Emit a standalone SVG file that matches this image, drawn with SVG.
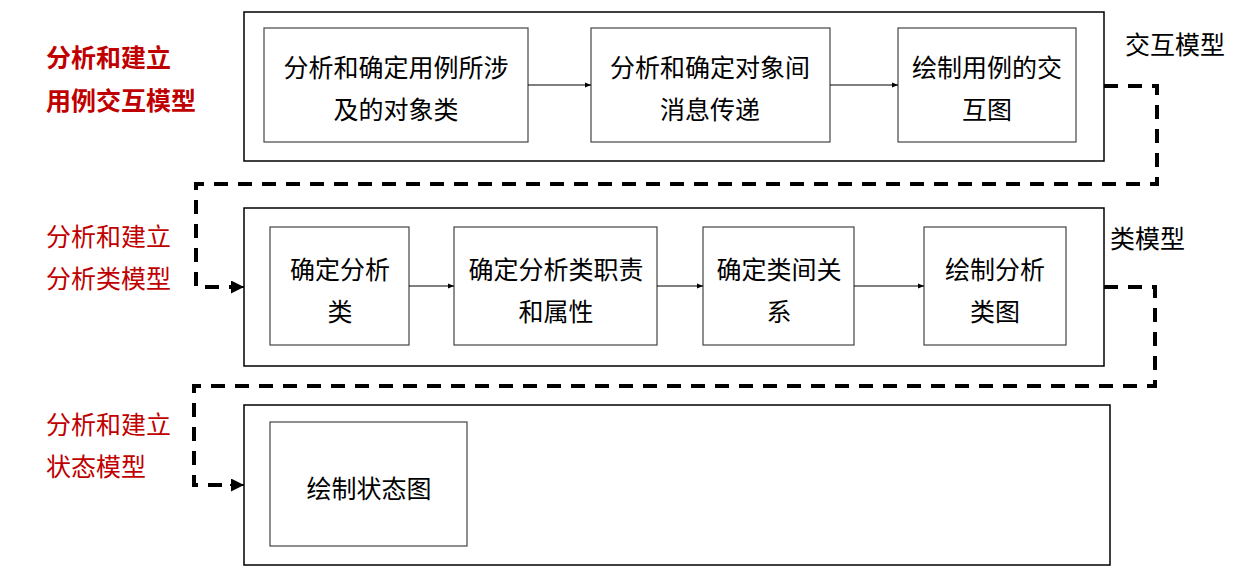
<svg xmlns="http://www.w3.org/2000/svg" width="1259" height="580" viewBox="0 0 1259 580">
<defs>
<marker id="a" viewBox="0 0 10 10" refX="10" refY="5" markerWidth="6" markerHeight="6" orient="auto" markerUnits="userSpaceOnUse"><path d="M0,1 L10,5 L0,9 z" fill="#000"/></marker>
<marker id="b" viewBox="0 0 10 10" refX="10" refY="5" markerWidth="13" markerHeight="13" orient="auto" markerUnits="userSpaceOnUse"><path d="M0,0 L10,5 L0,10 z" fill="#000"/></marker>
</defs>
<style>
.outer{fill:#fff;stroke:#000;stroke-width:1.5}
.inner{fill:#fff;stroke:#444;stroke-width:1.2}
.t{font-family:"Noto Sans CJK SC","Liberation Sans",sans-serif;font-size:25px;fill:#000;text-anchor:middle}
.side{font-family:"Noto Sans CJK SC","Liberation Sans",sans-serif;font-size:25px;fill:#000}
.red{font-family:"Noto Sans CJK SC","Liberation Sans",sans-serif;font-size:25px;fill:#c00000}
.arr{stroke:#000;stroke-width:1.2;fill:none}
.dash{stroke:#000;stroke-width:4;fill:none;stroke-dasharray:14 10}
</style>
<rect width="1259" height="580" fill="#fff"/>
<g id="labels">
<text class="red" x="46" y="67" font-weight="bold">分析和建立</text>
<text class="red" x="46" y="110" font-weight="bold">用例交互模型</text>
<text class="red" x="46" y="246">分析和建立</text>
<text class="red" x="46" y="288">分析类模型</text>
<text class="red" x="46" y="434">分析和建立</text>
<text class="red" x="46" y="476">状态模型</text>
<text class="side" x="1125" y="54">交互模型</text>
<text class="side" x="1110" y="248">类模型</text>
</g>
<g id="group1"><rect class="outer" x="244" y="12" width="860" height="149"/></g>
<g id="group2"><rect class="outer" x="244" y="208" width="860" height="158"/></g>
<g id="group3"><rect class="outer" x="244" y="405" width="866" height="160"/></g>
<g id="n1"><rect class="inner" x="264" y="28" width="264" height="114"/><text class="t" x="396" y="77">分析和确定用例所涉</text><text class="t" x="396" y="119">及的对象类</text></g>
<g id="n2"><rect class="inner" x="591" y="28" width="239" height="114"/><text class="t" x="710" y="77">分析和确定对象间</text><text class="t" x="710" y="119">消息传递</text></g>
<g id="n3"><rect class="inner" x="898" y="28" width="178" height="114"/><text class="t" x="987" y="77">绘制用例的交</text><text class="t" x="987" y="119">互图</text></g>
<g id="n4"><rect class="inner" x="270" y="227" width="139" height="118"/><text class="t" x="340" y="279">确定分析</text><text class="t" x="340" y="321">类</text></g>
<g id="n5"><rect class="inner" x="454" y="227" width="203" height="118"/><text class="t" x="556" y="279">确定分析类职责</text><text class="t" x="556" y="321">和属性</text></g>
<g id="n6"><rect class="inner" x="703" y="227" width="151" height="118"/><text class="t" x="779" y="279">确定类间关</text><text class="t" x="779" y="321">系</text></g>
<g id="n7"><rect class="inner" x="924" y="227" width="142" height="118"/><text class="t" x="995" y="279">绘制分析</text><text class="t" x="995" y="321">类图</text></g>
<g id="n8"><rect class="inner" x="270" y="422" width="197" height="124"/><text class="t" x="369" y="498">绘制状态图</text></g>
<g id="connectors">
<line class="arr" x1="528" y1="85" x2="591" y2="85" marker-end="url(#a)"/>
<line class="arr" x1="830" y1="85" x2="898" y2="85" marker-end="url(#a)"/>
<line class="arr" x1="409" y1="286" x2="454" y2="286" marker-end="url(#a)"/>
<line class="arr" x1="657" y1="286" x2="703" y2="286" marker-end="url(#a)"/>
<line class="arr" x1="854" y1="286" x2="924" y2="286" marker-end="url(#a)"/>
<path class="dash" d="M1104,86 H1157 V184 H196 V287 H233"/>
<line x1="230" y1="287" x2="244" y2="287" stroke="#000" stroke-width="2" marker-end="url(#b)"/>
<path class="dash" d="M1104,287 H1155 V386 H194 V485 H233"/>
<line x1="230" y1="485" x2="244" y2="485" stroke="#000" stroke-width="2" marker-end="url(#b)"/>
</g>
</svg>
